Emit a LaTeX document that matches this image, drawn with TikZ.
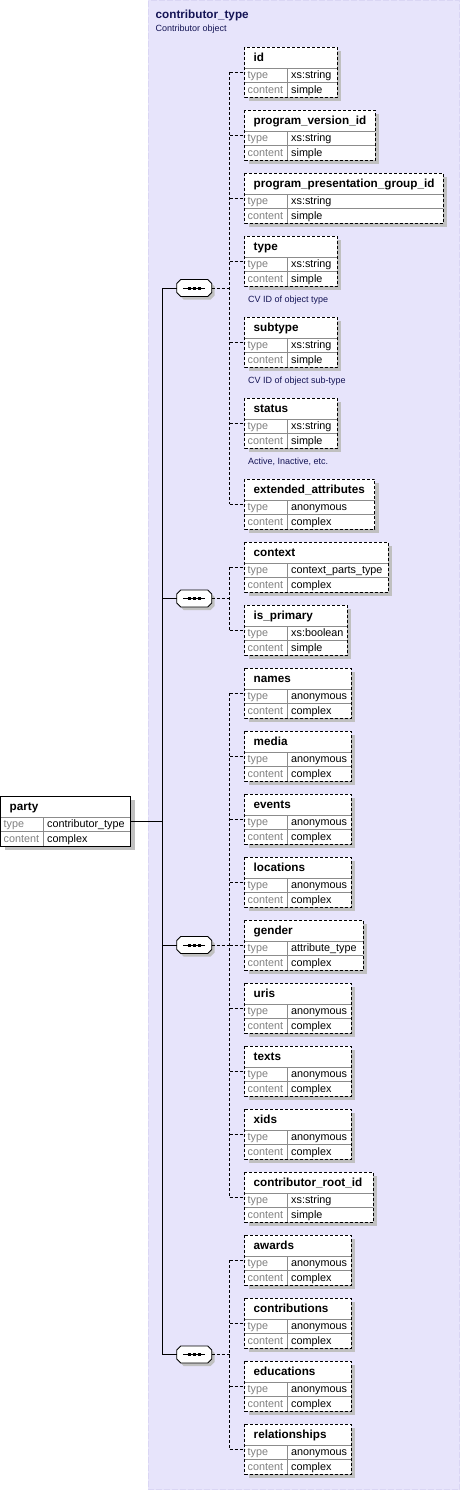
\documentclass[tikz,border=0pt]{standalone}
\usepackage{fontspec}
\setmainfont{Liberation Sans}
\definecolor{panel}{RGB}{231,228,251}
\definecolor{panelborder}{RGB}{218,214,244}
\definecolor{shadowc}{RGB}{192,192,192}
\definecolor{lblgray}{RGB}{128,128,128}
\definecolor{sepgray}{RGB}{140,140,140}
\definecolor{navy}{RGB}{20,20,85}
\tikzset{
  x=1pt, y=-1pt,
  ebox/.style={rectangle, fill=white, minimum height=50pt, inner sep=0pt, outer sep=0pt},
  pbox/.style={rectangle, fill=white, minimum height=50pt, minimum width=130pt, inner sep=0pt, outer sep=0pt},
  seqbox/.style={rectangle, minimum width=35pt, minimum height=17pt, inner sep=0pt, outer sep=0pt},
  shade/.style={fill=shadowc},
  innerline/.style={draw=sepgray, line width=0.9pt},
  dborder/.style={draw=black, line width=0.9pt, dash pattern=on 3pt off 2pt},
  sborder/.style={draw=black, line width=0.9pt},
  conn/.style={draw=black, line width=0.9pt},
  dconn/.style={draw=black, line width=0.9pt, dash pattern=on 3pt off 2pt},
  ttl/.style={anchor=base west, inner sep=0pt, font=\fontsize{11.7}{14}\selectfont\bfseries},
  lbl/.style={anchor=base west, inner sep=0pt, text=lblgray, font=\fontsize{10.8}{13}\selectfont},
  val/.style={anchor=base west, inner sep=0pt, font=\fontsize{10.8}{13}\selectfont},
  annot/.style={anchor=base west, inner sep=0pt, text=navy, font=\fontsize{9}{11}\selectfont},
}
% element box: name, top, width, title, type, content
\newcommand\elem[6]{%
  \fill[shade] (248.5,#2+4) rectangle ++(#3,50);
  \node[ebox, minimum width=#3pt, anchor=north west] (#1) at (244.5,#2) {};
  \draw[innerline] ([yshift=-21pt]#1.north west) -- ([yshift=-21pt]#1.north east);
  \draw[innerline] ([yshift=-35.5pt]#1.north west) -- ([yshift=-35.5pt]#1.north east);
  \draw[innerline] ([xshift=43pt,yshift=-21pt]#1.north west) -- ([xshift=43pt]#1.south west);
  \draw[dborder] (#1.north west) rectangle (#1.south east);
  \node[ttl] at ([xshift=9pt,yshift=-14.5pt]#1.north west) {#4};
  \node[lbl] at ([xshift=3pt,yshift=-31.5pt]#1.north west) {type};
  \node[lbl] at ([xshift=3pt,yshift=-46pt]#1.north west) {content};
  \node[val] at ([xshift=46.5pt,yshift=-31.5pt]#1.north west) {#5};
  \node[val] at ([xshift=46.5pt,yshift=-46pt]#1.north west) {#6};
}
% sequence compositor: name, centre y
\newcommand\seqnode[2]{%
  \begin{scope}[shift={(197.2,#2+3)}]
    \fill[shade] (-13.5,-8.5) -- (13.5,-8.5) -- (17.5,-4.5) -- (17.5,4.5) -- (13.5,8.5) -- (-13.5,8.5) -- (-17.5,4.5) -- (-17.5,-4.5) -- cycle;
  \end{scope}
  \begin{scope}[shift={(194.2,#2)}]
    \filldraw[fill=white, draw=black, line width=0.9pt] (-13.5,-8.5) -- (13.5,-8.5) -- (17.5,-4.5) -- (17.5,4.5) -- (13.5,8.5) -- (-13.5,8.5) -- (-17.5,4.5) -- (-17.5,-4.5) -- cycle;
    \draw[line width=0.9pt] (-11,0) -- (11,0);
    \fill (-6.5,-1.5) rectangle (-3.5,1.5);
    \fill (-1.5,-1.5) rectangle (1.5,1.5);
    \fill (3.5,-1.5) rectangle (6.5,1.5);
  \end{scope}
  \node[seqbox] (#1) at (194.2,#2) {};
}
\begin{document}
\begin{tikzpicture}
\useasboundingbox (0,0) rectangle (460,1491);
% complex type panel
\fill[panel] (148,0) rectangle (460,1490);
\draw[panelborder, line width=1pt, dash pattern=on 6pt off 2pt] (148.5,0.5) rectangle (459.5,1489.5);
\node[anchor=base west, inner sep=0pt, text=navy, font=\fontsize{11.7}{14}\selectfont\bfseries] (ctitle) at (155.5,18.3) {contributor\_type};
\node[anchor=base west, inner sep=0pt, text=navy, font=\fontsize{9}{11}\selectfont] (cdoc) at (155.5,31.7) {Contributor object};

% party
\fill[shade] (4.5,800) rectangle ++(130,50);
\node[pbox, anchor=north west] (party) at (0.5,796) {};
\draw[innerline] ([yshift=-21pt]party.north west) -- ([yshift=-21pt]party.north east);
\draw[innerline] ([yshift=-35.5pt]party.north west) -- ([yshift=-35.5pt]party.north east);
\draw[innerline] ([xshift=43pt,yshift=-21pt]party.north west) -- ([xshift=43pt]party.south west);
\draw[sborder] (party.north west) rectangle (party.south east);
\node[ttl] at ([xshift=9pt,yshift=-14.5pt]party.north west) {party};
\node[lbl] at ([xshift=3pt,yshift=-31.5pt]party.north west) {type};
\node[lbl] at ([xshift=3pt,yshift=-46pt]party.north west) {content};
\node[val] at ([xshift=46.5pt,yshift=-31.5pt]party.north west) {contributor\_type};
\node[val] at ([xshift=46.5pt,yshift=-46pt]party.north west) {complex};

% elements group 1
\elem{id}{47}{92.5}{id}{xs:string}{simple}
\elem{pvid}{110}{130.5}{program\_version\_id}{xs:string}{simple}
\elem{ppgid}{173}{198.5}{program\_presentation\_group\_id}{xs:string}{simple}
\elem{type}{236}{92.5}{type}{xs:string}{simple}
\node[annot] (atype) at ([xshift=3.5pt,yshift=-16pt]type.south west) {CV ID of object type};
\elem{subtype}{317}{92.5}{subtype}{xs:string}{simple}
\node[annot] (asubtype) at ([xshift=3.5pt,yshift=-16pt]subtype.south west) {CV ID of object sub-type};
\elem{status}{398}{92.5}{status}{xs:string}{simple}
\node[annot] (astatus) at ([xshift=3.5pt,yshift=-16pt]status.south west) {Active, Inactive, etc.};
\elem{ext}{479}{130}{extended\_attributes}{anonymous}{complex}
% group 2
\elem{context}{542}{143.5}{context}{context\_parts\_type}{complex}
\elem{isprimary}{605}{102.5}{is\_primary}{xs:boolean}{simple}
% group 3
\elem{names}{668}{106.5}{names}{anonymous}{complex}
\elem{media}{731}{106.5}{media}{anonymous}{complex}
\elem{events}{794}{106.5}{events}{anonymous}{complex}
\elem{locations}{857}{106.5}{locations}{anonymous}{complex}
\elem{gender}{920}{118.5}{gender}{attribute\_type}{complex}
\elem{uris}{983}{106.5}{uris}{anonymous}{complex}
\elem{texts}{1046}{106.5}{texts}{anonymous}{complex}
\elem{xids}{1109}{106.5}{xids}{anonymous}{complex}
\elem{croot}{1172}{128.5}{contributor\_root\_id}{xs:string}{simple}
% group 4
\elem{awards}{1235}{106.5}{awards}{anonymous}{complex}
\elem{contributions}{1298}{106.5}{contributions}{anonymous}{complex}
\elem{educations}{1361}{106.5}{educations}{anonymous}{complex}
\elem{relationships}{1424}{106.5}{relationships}{anonymous}{complex}

% sequence compositors
\seqnode{s1}{288}
\seqnode{s2}{598.5}
\seqnode{s3}{945}
\seqnode{s4}{1354.5}

% solid trunk
\coordinate (trunk) at (162.5,821);
\draw[conn] (party.east) -- (trunk);
\draw[conn] (s1.west) -- (s1.west -| trunk) -- (s4.west -| trunk) -- (s4.west);
\draw[conn] (s2.west) -- (s2.west -| trunk);
\draw[conn] (s3.west) -- (s3.west -| trunk);

% dashed branches
\coordinate (br) at (229.5,0);
\draw[dconn] (s1.east) -- (s1.east -| br);
\draw[dconn] (id.west -| br) -- (ext.west -| br);
\foreach \n in {id,pvid,ppgid,type,subtype,status,ext}{\draw[dconn] (\n.west -| br) -- (\n.west);}
\draw[dconn] (s2.east) -- (s2.east -| br);
\draw[dconn] (context.west -| br) -- (isprimary.west -| br);
\foreach \n in {context,isprimary}{\draw[dconn] (\n.west -| br) -- (\n.west);}
\draw[dconn] (s3.east) -- (s3.east -| br);
\draw[dconn] (names.west -| br) -- (croot.west -| br);
\foreach \n in {names,media,events,locations,gender,uris,texts,xids,croot}{\draw[dconn] (\n.west -| br) -- (\n.west);}
\draw[dconn] (s4.east) -- (s4.east -| br);
\draw[dconn] (awards.west -| br) -- (relationships.west -| br);
\foreach \n in {awards,contributions,educations,relationships}{\draw[dconn] (\n.west -| br) -- (\n.west);}
\end{tikzpicture}
\end{document}
